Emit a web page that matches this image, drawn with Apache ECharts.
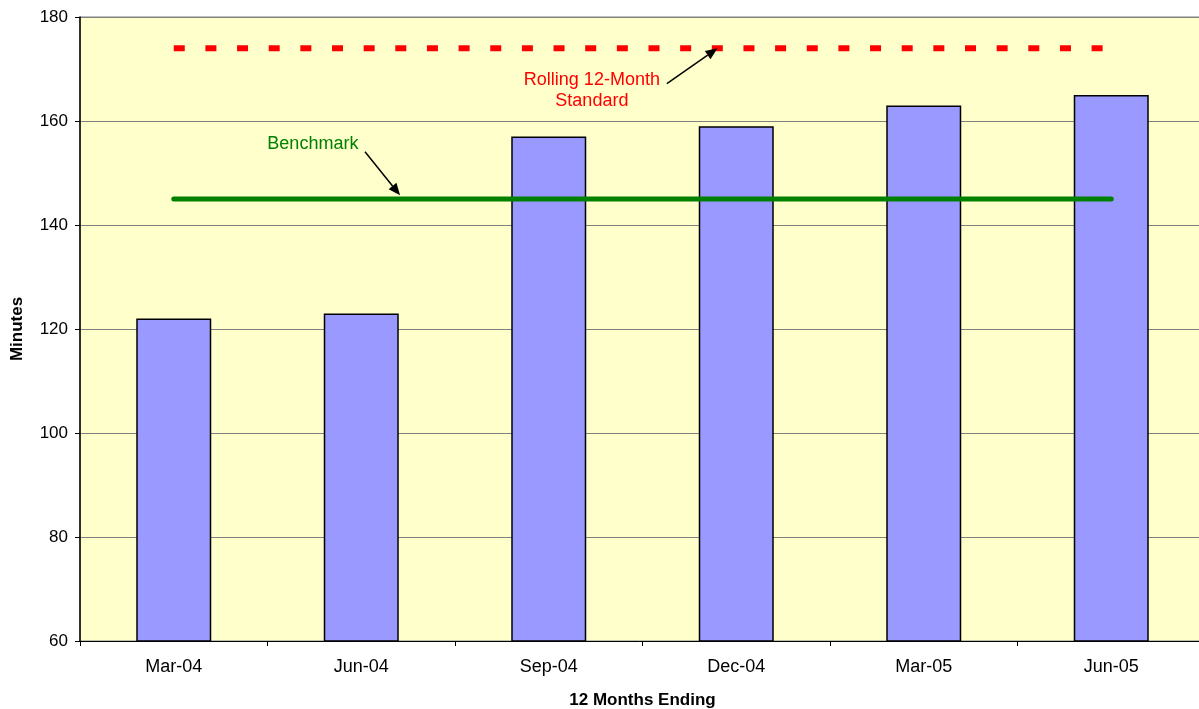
<!DOCTYPE html>
<html>
<head>
<meta charset="utf-8">
<script src="https://cdn.jsdelivr.net/npm/echarts@6/dist/echarts.min.js"></script>
<style>
  html, body { margin: 0; padding: 0; background: #ffffff; }
  #chart { width: 1199px; height: 709px; }
</style>
</head>
<body>
<div id="chart"></div>
<script>
// Average minutes over the 12 months ending each quarter
const categories = ['Mar-04', 'Jun-04', 'Sep-04', 'Dec-04', 'Mar-05', 'Jun-05'];
const minutes = [122, 123, 157, 159, 163, 165];
const standardValue = 174;   // Rolling 12-Month Standard
const benchmarkValue = 145;  // Benchmark
const yTicks = { min: 60, max: 180, interval: 20 };

const FONT = 'Liberation Sans, Arial, sans-serif';

const chart = echarts.init(document.getElementById('chart'), null, { renderer: 'canvas' });

const option = {
  animation: false,
  backgroundColor: '#ffffff',
  grid: {
    left: 80, right: -6, top: 17, bottom: 68,
    outerBoundsMode: 'none',
    containLabel: false,
    show: true,
    backgroundColor: '#FFFFCC',
    borderColor: '#808080',
    borderWidth: 1
  },
  xAxis: {
    type: 'category',
    data: categories,
    name: '12 Months Ending',
    nameLocation: 'middle',
    nameGap: 51,
    nameTextStyle: { fontFamily: FONT, fontSize: 17, fontWeight: 'bold', color: '#000' },
    axisLine: { show: true, lineStyle: { color: '#000', width: 1 } },
    axisTick: { show: true, alignWithLabel: false, length: 5, lineStyle: { color: '#000' } },
    axisLabel: { fontFamily: FONT, fontSize: 18, color: '#000', margin: 17 },
    splitLine: { show: false }
  },
  yAxis: {
    type: 'value',
    min: yTicks.min,
    max: yTicks.max,
    interval: yTicks.interval,
    name: 'Minutes',
    nameLocation: 'middle',
    nameGap: 54,
    nameRotate: 90,
    nameTextStyle: { fontFamily: FONT, fontSize: 17, fontWeight: 'bold', color: '#000' },
    axisLine: { show: true, lineStyle: { color: '#000', width: 1.5 } },
    axisTick: { show: true, length: 5, lineStyle: { color: '#000' } },
    axisLabel: { fontFamily: FONT, fontSize: 17, color: '#000', margin: 12 },
    splitLine: { show: true, lineStyle: { color: '#808080', width: 1 } }
  },
  series: [
    {
      name: 'Minutes',
      type: 'bar',
      data: minutes,
      barWidth: 75,
      itemStyle: { color: '#9999FF', borderColor: '#000', borderWidth: 1.5 },
      z: 2
    },
    {
      name: 'Rolling 12-Month Standard',
      type: 'line',
      data: categories.map(() => standardValue),
      symbol: 'none',
      lineStyle: { color: '#FF0000', width: 6, type: [11, 20.65], cap: 'butt' },
      z: 3
    },
    {
      name: 'Benchmark',
      type: 'line',
      data: categories.map(() => benchmarkValue),
      symbol: 'none',
      lineStyle: { color: '#008000', width: 5, cap: 'round' },
      z: 3
    }
  ]
};

chart.setOption(option);

// Position helpers: fractional category index and value -> pixel
function px(catPos, value) {
  const i0 = Math.floor(catPos);
  const a = chart.convertToPixel({ xAxisIndex: 0, yAxisIndex: 0 }, [i0, value]);
  const b = chart.convertToPixel({ xAxisIndex: 0, yAxisIndex: 0 }, [i0 + 1, value]);
  const t = catPos - i0;
  return [a[0] + (b[0] - a[0]) * t, a[1]];
}

function arrow(from, to) {
  const ang = Math.atan2(to[1] - from[1], to[0] - from[0]);
  const L = 12, W = 5;
  const bx = to[0] - L * Math.cos(ang), by = to[1] - L * Math.sin(ang);
  const nx = -Math.sin(ang) * W, ny = Math.cos(ang) * W;
  return [
    { type: 'line', shape: { x1: from[0], y1: from[1], x2: bx, y2: by },
      style: { stroke: '#000', lineWidth: 1.5 }, z: 10 },
    { type: 'polygon', shape: { points: [[to[0], to[1]], [bx + nx, by + ny], [bx - nx, by - ny]] },
      style: { fill: '#000' }, z: 10 }
  ];
}

const stdLabelPos = px(2.23, 165.9);
const benchLabelPos = px(0.742, 155.6);

chart.setOption({
  graphic: [
    {
      type: 'text', x: stdLabelPos[0], y: stdLabelPos[1],
      style: {
        text: 'Rolling 12-Month\nStandard', fill: '#FF0000',
        font: '18px ' + FONT, align: 'center', verticalAlign: 'middle', lineHeight: 21
      }, z: 10
    },
    {
      type: 'text', x: benchLabelPos[0], y: benchLabelPos[1],
      style: {
        text: 'Benchmark', fill: '#008000',
        font: '18px ' + FONT, align: 'center', verticalAlign: 'middle'
      }, z: 10
    },
    ...arrow(px(2.63, 167.2), px(2.90, standardValue)),
    ...arrow(px(1.02, 154.1), px(1.207, benchmarkValue + 0.7))
  ]
});
</script>
</body>
</html>
